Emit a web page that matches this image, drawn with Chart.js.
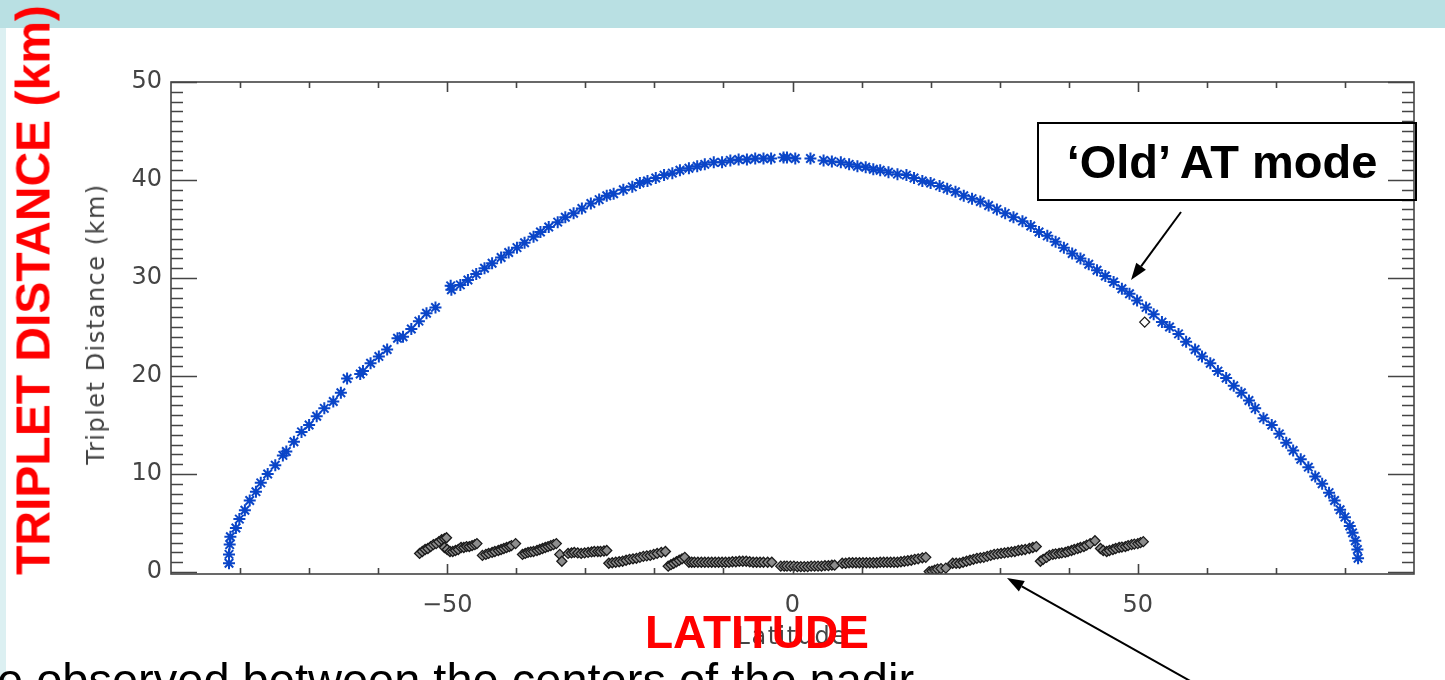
<!DOCTYPE html>
<html>
<head>
<meta charset="utf-8">
<script src="https://cdn.jsdelivr.net/npm/chart.js@4.4.1/dist/chart.umd.min.js"></script>
<style>
  html, body { margin: 0; padding: 0; background: #fff; }
  #page { position: relative; width: 1445px; height: 680px; overflow: hidden; background: #fff; }
  #band { position: absolute; left: 0; top: 0; width: 1445px; height: 28px; background: #b9e0e3; }
  #strip { position: absolute; left: 0; top: 28px; width: 6px; height: 652px; background: #dcf0f2; }
  #chart { position: absolute; left: 0; top: 0; z-index: 1; }
  .txt { position: absolute; z-index: 2; white-space: nowrap; line-height: 1; }
  #ytitle { left: 96px; top: 324px; font: 24px 'DejaVu Sans'; color: #444; letter-spacing: 1.5px;
            transform: translate(-50%, -50%) rotate(-90deg); }
  #xtitle { left: 792px; top: 636px; font: 24px 'DejaVu Sans'; color: #444; letter-spacing: 1.5px;
            transform: translate(-50%, -50%); }
  #redY { left: 33px; top: 290px; font: bold 48px 'Liberation Sans', Arial, sans-serif; color: #ff0000;
          transform: translate(-50%, -50%) rotate(-90deg); }
  #redX { left: 757px; top: 632px; font: bold 46px 'Liberation Sans', Arial, sans-serif; color: #ff0000;
          transform: translate(-50%, -50%); }
  #box { left: 1037px; top: 122px; width: 366px; height: 75px; border: 2px solid #000;
         font: bold 47px 'Liberation Sans', Arial, sans-serif; color: #000;
         display: flex; align-items: center; justify-content: center; padding-right: 10px; }
  #bottom { left: -3px; top: 652px; font: 47px 'Liberation Sans', Arial, sans-serif; color: #000; }
</style>
</head>
<body>
<div id="page">
  <div id="band"></div>
  <div id="strip"></div>
  <canvas id="chart" width="1445" height="680"></canvas>
  <div class="txt" id="ytitle">Triplet Distance (km)</div>
  <div class="txt" id="xtitle">Latitude</div>
  <div class="txt" id="redY">TRIPLET DISTANCE (km)</div>
  <div class="txt" id="redX">LATITUDE</div>
  <div class="txt" id="box">‘Old’ AT mode</div>
  <div class="txt" id="bottom">e observed between the centers of the nadir</div>
</div>
<script>
// 'Old' AT mode (blue asterisks)
const oldLat = [
  -81.6, -81.6, -81.5, -81.4, -80.6, -80.1, -79.3, -78.6, -77.7, -77.0,
  -76.0, -74.9, -73.8, -73.3, -72.2, -71.1, -70.0, -68.9, -67.8, -66.5,
  -65.4, -64.5, -62.6, -62.2, -61.1, -59.9, -58.7, -57.2, -56.4, -55.2,
  -54.1, -53.0, -51.7, -49.5, -49.4, -48.1, -47.0, -45.8, -44.6, -43.5,
  -42.2, -41.1, -39.9, -38.8, -37.5, -36.5, -35.3, -34.0, -32.9, -31.7,
  -30.5, -29.2, -28.0, -26.9, -25.9, -24.5, -23.2, -22.1, -21.0, -19.8,
  -18.6, -17.4, -16.3, -15.0, -13.8, -12.7, -11.4, -10.2, -9.0, -7.8,
  -6.6, -5.4, -4.2, -3.1, -1.3, -0.8, 0.4, 2.6, 4.5, 5.7,
  7.0, 8.2, 9.4, 10.6, 11.7, 12.7, 13.9, 15.2, 16.5, 17.6,
  18.8, 20.0, 21.3, 22.4, 23.6, 24.8, 26.0, 27.2, 28.4, 29.6,
  30.8, 32.0, 33.3, 34.5, 35.7, 36.9, 38.1, 39.3, 40.5, 41.7,
  42.9, 44.1, 45.3, 46.5, 47.7, 48.8, 49.9, 51.2, 52.3, 53.5,
  54.6, 55.9, 57.0, 58.3, 59.3, 60.5, 61.6, 62.8, 63.9, 65.0,
  66.1, 67.0, 68.2, 69.4, 70.5, 71.5, 72.5, 73.6, 74.7, 75.7,
  76.7, 77.7, 78.5, 79.3, 80.0, 80.7, 81.1, 81.5, 81.8, 81.9
];
const oldDist = [
  0.9, 1.8, 2.8, 3.6, 4.5, 5.4, 6.3, 7.3, 8.2, 9.1,
  10.0, 10.9, 11.9, 12.3, 13.3, 14.3, 15.0, 15.9, 16.7, 17.4,
  18.3, 19.75, 20.2, 20.5, 21.3, 22.0, 22.7, 23.85, 24.0, 24.8,
  25.6, 26.4, 27.0, 29.2, 28.8, 29.3, 29.8, 30.4, 31.0, 31.5,
  32.1, 32.6, 33.1, 33.6, 34.2, 34.7, 35.2, 35.7, 36.2, 36.6,
  37.1, 37.6, 38.0, 38.4, 38.6, 39.0, 39.3, 39.7, 39.9, 40.2,
  40.5, 40.7, 41.0, 41.2, 41.4, 41.6, 41.8, 41.8, 42.0, 42.1,
  42.1, 42.2, 42.2, 42.2, 42.3, 42.3, 42.2, 42.2, 42.0, 41.9,
  41.8, 41.6, 41.4, 41.3, 41.1, 41.0, 40.8, 40.6, 40.5, 40.2,
  39.9, 39.7, 39.4, 39.1, 38.8, 38.4, 38.1, 37.8, 37.4, 37.0,
  36.6, 36.2, 35.8, 35.3, 34.7, 34.3, 33.7, 33.1, 32.5, 32.0,
  31.4, 30.8, 30.2, 29.6, 28.9, 28.4, 27.7, 27.0, 26.3, 25.5,
  25.0, 24.3, 23.5, 22.7, 22.0, 21.3, 20.5, 19.8, 19.0, 18.3,
  17.5, 16.7, 15.7, 15.0, 14.1, 13.2, 12.4, 11.5, 10.7, 9.75,
  9.0, 8.1, 7.3, 6.35, 5.6, 4.7, 4.0, 3.2, 2.3, 1.4
];

// new mode (black diamonds near zero)
const newLat = [
  -54.0, -53.6, -53.2, -52.8, -52.4, -52.0, -51.6, -51.2, -50.8, -50.4, -50.1,
  -50.4, -50.0, -49.6, -49.2, -48.8, -48.4, -48.0, -47.6, -47.2, -46.8, -46.4, -46.0, -45.7,
  -44.9, -44.4, -44.0, -43.5, -43.1, -42.6, -42.2, -41.8, -41.4, -41.0, -40.7, -40.1,
  -39.1, -38.7, -38.3, -37.9, -37.5, -37.0, -36.6, -36.2, -35.8, -35.4, -35.0, -34.6, -34.2,
  -33.7, -33.4,
  -32.5, -32.0, -31.6, -31.1, -30.6, -30.1, -29.6, -29.1, -28.7, -28.2, -27.8, -27.3, -26.9,
  -26.6, -26.1, -25.6, -25.1, -24.6, -24.1, -23.6, -23.1, -22.6, -22.1, -21.6, -21.1, -20.6, -20.1, -19.6, -19.0, -18.4,
  -18.0, -17.6, -17.2, -16.8, -16.4, -16.0, -15.6,
  -15.0, -14.6, -14.2, -13.7, -13.2, -12.7, -12.2, -11.7, -11.2, -10.7, -10.2, -9.7, -9.2, -8.7, -8.2, -7.7,
  -7.2, -6.7, -6.2, -5.7, -5.2, -4.7, -4.2, -3.6, -3.0,
  -1.7, -1.2, -0.8, -0.3, 0.2, 0.7, 1.2, 1.7, 2.2, 2.7, 3.2, 3.7, 4.2, 4.7, 5.2, 5.7, 6.1,
  7.2, 7.7, 8.2, 8.7, 9.2, 9.7, 10.2, 10.7, 11.2, 11.7, 12.2, 12.7, 13.2, 13.7, 14.2, 14.7,
  15.2, 15.7, 16.2, 16.7, 17.2, 17.7, 18.2, 18.8, 19.3,
  19.8, 20.2, 20.6, 21.0, 21.5, 22.2,
  23.2, 23.7, 24.2, 24.7, 25.2, 25.7, 26.2, 26.7, 27.2, 27.7, 28.2, 28.7, 29.2, 29.7,
  30.2, 30.7, 31.2, 31.7, 32.2, 32.7, 33.2, 33.7, 34.3, 34.8, 35.3,
  35.9, 36.3, 36.8, 37.2, 37.7, 38.1, 38.6, 39.0, 39.5, 39.9, 40.4, 40.8, 41.3, 41.7, 42.2, 42.6, 43.1, 43.8,
  44.6, 45.0, 45.5, 45.9, 46.4, 46.8, 47.3, 47.7, 48.2, 48.6, 49.1, 49.5, 50.0, 50.4, 50.8,
  51.0
];
const newDist = [
  1.9, 2.1, 2.3, 2.4, 2.6, 2.8, 2.9, 3.1, 3.3, 3.4, 3.5,
  2.5, 2.3, 2.1, 2.1, 2.2, 2.3, 2.5, 2.5, 2.6, 2.6, 2.7, 2.8, 2.9,
  1.7, 1.8, 1.9, 2.0, 2.1, 2.2, 2.3, 2.4, 2.5, 2.6, 2.7, 2.9,
  1.8, 1.9, 2.0, 2.05, 2.1, 2.2, 2.3, 2.4, 2.5, 2.6, 2.7, 2.8, 2.9,
  1.8, 1.1,
  1.9, 1.95, 2.0, 1.95, 1.9, 1.95, 2.0, 2.05, 2.1, 2.1, 2.1, 2.15, 2.2,
  0.9, 0.95, 1.0, 1.05, 1.1, 1.2, 1.3, 1.35, 1.4, 1.5, 1.6, 1.65, 1.7, 1.8, 1.9, 2.0, 2.1,
  0.6, 0.75, 0.9, 1.05, 1.2, 1.35, 1.5,
  1.0, 1.0, 1.0, 1.0, 1.0, 1.0, 1.0, 1.0, 1.0, 1.0, 1.0, 1.0, 1.0, 1.05, 1.05, 1.1,
  1.1, 1.1, 1.05, 1.0, 1.0, 1.0, 1.0, 1.0, 1.0,
  0.6, 0.6, 0.6, 0.6, 0.6, 0.55, 0.55, 0.55, 0.55, 0.6, 0.6, 0.6, 0.6, 0.65, 0.65, 0.7, 0.7,
  0.9, 0.9, 0.95, 0.95, 0.95, 0.95, 0.95, 0.95, 0.95, 0.95, 0.95, 1.0, 1.0, 1.0, 1.0, 1.0,
  1.0, 1.05, 1.1, 1.15, 1.2, 1.3, 1.35, 1.45, 1.5,
  0.05, 0.1, 0.2, 0.3, 0.35, 0.4,
  0.9, 0.9, 0.9, 1.0, 1.1, 1.2, 1.3, 1.4, 1.45, 1.5, 1.6, 1.7, 1.8, 1.85,
  1.9, 1.95, 2.0, 2.05, 2.1, 2.2, 2.25, 2.3, 2.4, 2.5, 2.6,
  1.1, 1.3, 1.5, 1.7, 1.8, 1.85, 1.9, 1.95, 2.0, 2.1, 2.2, 2.3, 2.4, 2.5, 2.6, 2.75, 2.9, 3.2,
  2.4, 2.2, 2.1, 2.2, 2.3, 2.4, 2.5, 2.55, 2.6, 2.7, 2.8, 2.85, 2.9, 3.0, 3.1,
  25.5
];

const xTickValues = [-50, 0, 50];
const yTickValues = [0, 10, 20, 30, 40, 50];

function toPoints(xs, ys) {
  return xs.map((x, i) => ({ x: x, y: ys[i] }));
}

function drawArrow(ctx, x1, y1, x2, y2) {
  const ang = Math.atan2(y2 - y1, x2 - x1);
  const len = 17, half = 6;
  const bx = x2 - len * Math.cos(ang), by = y2 - len * Math.sin(ang);
  ctx.beginPath();
  ctx.moveTo(x1, y1);
  ctx.lineTo(bx, by);
  ctx.stroke();
  ctx.beginPath();
  ctx.moveTo(x2, y2);
  ctx.lineTo(bx + half * Math.sin(ang), by - half * Math.cos(ang));
  ctx.lineTo(bx - half * Math.sin(ang), by + half * Math.cos(ang));
  ctx.closePath();
  ctx.fill();
}

// IDL style frame with inward ticks on all four sides, plus the slide arrows
const frameTicks = {
  id: 'frameTicks',
  afterDatasetsDraw(chart) {
    const { ctx, chartArea: a, scales: { x, y } } = chart;
    ctx.save();
    ctx.strokeStyle = '#444';
    ctx.lineWidth = 1.6;
    ctx.strokeRect(a.left, a.top, a.right - a.left, a.bottom - a.top);
    ctx.beginPath();
    for (let v = 0; v <= 50; v++) {
      const py = Math.round(y.getPixelForValue(v)) + 0.5;
      const len = v % 10 === 0 ? 26 : 12;
      ctx.moveTo(a.left, py); ctx.lineTo(a.left + len, py);
      ctx.moveTo(a.right, py); ctx.lineTo(a.right - len, py);
    }
    for (let v = -80; v <= 80; v += 10) {
      const px = Math.round(x.getPixelForValue(v)) + 0.5;
      const len = v % 50 === 0 ? 10 : 6;
      ctx.moveTo(px, a.bottom); ctx.lineTo(px, a.bottom - len);
      ctx.moveTo(px, a.top); ctx.lineTo(px, a.top + len);
    }
    ctx.stroke();

    ctx.strokeStyle = '#000';
    ctx.fillStyle = '#000';
    ctx.lineWidth = 2;
    drawArrow(ctx, 1181, 212, 1131, 280);
    drawArrow(ctx, 1192, 682, 1007, 578);
    ctx.restore();
  }
};

new Chart(document.getElementById('chart'), {
  type: 'scatter',
  data: {
    datasets: [{
      label: 'Old AT mode',
      data: toPoints(oldLat, oldDist),
      pointStyle: 'star',
      pointRadius: 6,
      pointBorderColor: '#0a45c8',
      pointBorderWidth: 2,
      pointBackgroundColor: '#0a45c8',
      showLine: false
    }, {
      label: 'New mode',
      data: toPoints(newLat, newDist),
      pointStyle: 'rectRot',
      pointRadius: 5,
      pointBorderColor: '#1a1a1a',
      pointBorderWidth: 1.3,
      pointBackgroundColor: ctx => (ctx.raw && ctx.raw.y > 10) ? '#fff' : '#8c8c8c',
      showLine: false
    }]
  },
  options: {
    responsive: false,
    animation: false,
    layout: { padding: { left: 0, right: 31, top: 82, bottom: 0 } },
    plugins: {
      legend: { display: false },
      tooltip: { enabled: false }
    },
    scales: {
      x: {
        type: 'linear',
        min: -90,
        max: 90,
        afterFit: scale => { scale.height = 106; },
        afterBuildTicks: scale => { scale.ticks = xTickValues.map(v => ({ value: v })); },
        grid: { display: false, drawTicks: false },
        border: { display: false },
        ticks: {
          color: '#444',
          padding: 17,
          font: { family: 'DejaVu Sans', size: 24 },
          callback: v => String(v).replace('-', '\u2212')
        }
      },
      y: {
        type: 'linear',
        min: -0.2,
        max: 50,
        afterFit: scale => { scale.width = 171; },
        afterBuildTicks: scale => { scale.ticks = yTickValues.map(v => ({ value: v })); },
        grid: { display: false, drawTicks: false },
        border: { display: false },
        ticks: {
          color: '#444',
          padding: 9,
          font: { family: 'DejaVu Sans', size: 24 }
        }
      }
    }
  },
  plugins: [frameTicks]
});
</script>
</body>
</html>
